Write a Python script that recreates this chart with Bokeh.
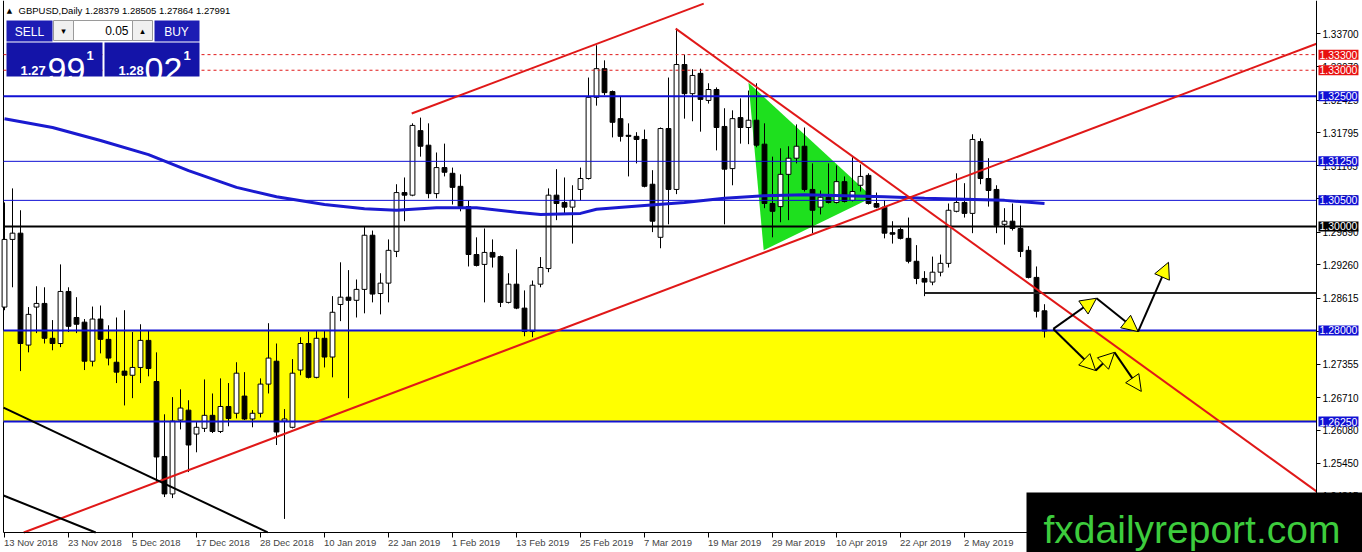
import numpy as np
from bokeh.plotting import figure
from bokeh.models import (ColumnDataSource, Range1d, FixedTicker, PrintfTickFormatter,
                          Label, BoxAnnotation, Arrow, NormalHead, LinearAxis)
from bokeh.embed import file_html
from bokeh.resources import INLINE

# ---------------- data ----------------
header_text = "GBPUSD,Daily  1.28379 1.28505 1.27864 1.27991"

date_labels = ["13 Nov 2018", "23 Nov 2018", "5 Dec 2018", "17 Dec 2018", "28 Dec 2018",
               "10 Jan 2019", "22 Jan 2019", "1 Feb 2019", "13 Feb 2019", "25 Feb 2019",
               "7 Mar 2019", "19 Mar 2019", "29 Mar 2019", "10 Apr 2019", "22 Apr 2019",
               "2 May 2019", "14 May 2019"]
date_label_bars = [0, 8, 16, 24, 32, 40, 48, 56, 64, 72, 80, 88, 96, 104, 112, 120, 128]

price_ticks = [1.33700, 1.33070, 1.32425, 1.31795, 1.31165, 1.30530, 1.29890, 1.29260,
               1.28615, 1.27985, 1.27355, 1.26710, 1.26080, 1.25450, 1.24815]

opens = [1.2845, 1.2975, 1.2987, 1.2772, 1.2845, 1.2852, 1.2785, 1.2775, 1.2875, 1.2825,
         1.2816, 1.2741, 1.2822, 1.2783, 1.2739, 1.2722, 1.2714, 1.2729, 1.2781, 1.2702,
         1.2558, 1.2486, 1.2628, 1.2647, 1.2601, 1.2612, 1.2637, 1.2606, 1.2654, 1.2641,
         1.2674, 1.2630, 1.2641, 1.2697, 1.2741, 1.2626, 1.2614, 1.2724, 1.2775, 1.2710,
         1.2785, 1.2749, 1.2850, 1.2864, 1.2858, 1.2879, 1.2983, 1.2871, 1.2891, 1.2952,
         1.3065, 1.3060, 1.3184, 1.3156, 1.3063, 1.3113, 1.3102, 1.3077, 1.3038, 1.2946,
         1.2927, 1.2950, 1.2942, 1.2854, 1.2889, 1.2843, 1.2798, 1.2889, 1.2919, 1.3060,
         1.3046, 1.3037, 1.3071, 1.3092, 1.3248, 1.3303, 1.3259, 1.3207, 1.3175, 1.3173,
         1.3167, 1.3081, 1.2979, 1.3188, 1.3071, 1.3311, 1.3255, 1.3294, 1.3242, 1.3263,
         1.3192, 1.3111, 1.3209, 1.3190, 1.3204, 1.3158, 1.3044, 1.3038, 1.3100, 1.3131,
         1.3154, 1.3071, 1.3037, 1.3056, 1.3046, 1.3086, 1.3050, 1.3079, 1.3098, 1.3044,
         1.3037, 1.2988, 1.2994, 1.2977, 1.2933, 1.2900, 1.2893, 1.2912, 1.2929, 1.3029,
         1.3046, 1.3025, 1.3163, 1.3092, 1.3071, 1.3004, 1.3010, 1.2996, 1.2954, 1.2902,
         1.28379]
highs = [1.3046, 1.3073, 1.3031, 1.2845, 1.2885, 1.2883, 1.2820, 1.2927, 1.2883, 1.2864,
         1.2822, 1.2846, 1.2848, 1.2810, 1.2825, 1.2839, 1.2797, 1.2812, 1.2800, 1.2758,
         1.2639, 1.2672, 1.2687, 1.2666, 1.2624, 1.2706, 1.2679, 1.2708, 1.2699, 1.2739,
         1.2720, 1.2647, 1.2708, 1.2814, 1.2775, 1.2649, 1.2745, 1.2787, 1.2798, 1.2800,
         1.2800, 1.2866, 1.2931, 1.2916, 1.2898, 1.3000, 1.2992, 1.2910, 1.2975, 1.3081,
         1.3094, 1.3198, 1.3209, 1.3198, 1.3142, 1.3159, 1.3113, 1.3100, 1.3050, 1.2979,
         1.2996, 1.2975, 1.2944, 1.2910, 1.2956, 1.2877, 1.2896, 1.2941, 1.3073, 1.3110,
         1.3094, 1.3079, 1.3113, 1.3286, 1.3348, 1.3319, 1.3261, 1.3250, 1.3198, 1.3181,
         1.3186, 1.3108, 1.3190, 1.3286, 1.3380, 1.3330, 1.3302, 1.3303, 1.3275, 1.3267,
         1.3227, 1.3223, 1.3246, 1.3261, 1.3275, 1.3198, 1.3134, 1.3150, 1.3154, 1.3196,
         1.3190, 1.3121, 1.3069, 1.3121, 1.3117, 1.3096, 1.3133, 1.3119, 1.3102, 1.3065,
         1.3050, 1.3010, 1.2998, 1.3017, 1.2964, 1.2914, 1.2942, 1.2946, 1.3044, 1.3102,
         1.3083, 1.3177, 1.3169, 1.3131, 1.3079, 1.3035, 1.3044, 1.3040, 1.2962, 1.2923,
         1.28505]
lows = [1.2839, 1.2883, 1.2722, 1.2758, 1.2795, 1.2775, 1.2762, 1.2768, 1.2797, 1.2795,
        1.2724, 1.2731, 1.2756, 1.2733, 1.2699, 1.2656, 1.2670, 1.2699, 1.2712, 1.2509,
        1.2480, 1.2478, 1.2610, 1.2528, 1.2566, 1.2605, 1.2603, 1.2603, 1.2616, 1.2631,
        1.2628, 1.2614, 1.2633, 1.2679, 1.2580, 1.2438, 1.2612, 1.2714, 1.2708, 1.2708,
        1.2729, 1.2710, 1.2818, 1.2670, 1.2825, 1.2833, 1.2854, 1.2831, 1.2854, 1.2941,
        1.3010, 1.3058, 1.3134, 1.3054, 1.3054, 1.3096, 1.3042, 1.3029, 1.2923, 1.2923,
        1.2854, 1.2921, 1.2845, 1.2852, 1.2841, 1.2789, 1.2787, 1.2883, 1.2912, 1.3012,
        1.3025, 1.2967, 1.3050, 1.3090, 1.3232, 1.3252, 1.3171, 1.3163, 1.3096, 1.3121,
        1.3075, 1.2989, 1.2958, 1.3004, 1.3062, 1.3207, 1.3202, 1.3182, 1.3236, 1.3146,
        1.3004, 1.3079, 1.3159, 1.3158, 1.3152, 1.3035, 1.2979, 1.3008, 1.3012, 1.3121,
        1.3067, 1.2987, 1.3023, 1.3044, 1.3044, 1.3046, 1.3048, 1.3067, 1.3042, 1.3035,
        1.2977, 1.2967, 1.2975, 1.2929, 1.2889, 1.2866, 1.2887, 1.2904, 1.2921, 1.3027,
        1.3017, 1.2987, 1.3081, 1.3038, 1.2987, 1.2965, 1.2992, 1.2941, 1.2900, 1.2825,
        1.27864]
closes = [1.2975, 1.2987, 1.2775, 1.2831, 1.2852, 1.2785, 1.2775, 1.2875, 1.2808, 1.2812,
          1.2741, 1.2822, 1.2783, 1.2747, 1.2720, 1.2714, 1.2729, 1.2781, 1.2727, 1.2557,
          1.2486, 1.2626, 1.2651, 1.2580, 1.2614, 1.2637, 1.2606, 1.2654, 1.2631, 1.2718,
          1.2630, 1.2641, 1.2697, 1.2747, 1.2605, 1.2630, 1.2718, 1.2775, 1.2710, 1.2785,
          1.2749, 1.2835, 1.2864, 1.2858, 1.2879, 1.2983, 1.2870, 1.2891, 1.2954, 1.3065,
          1.3060, 1.3194, 1.3154, 1.3063, 1.3113, 1.3104, 1.3075, 1.3038, 1.2946, 1.2925,
          1.2950, 1.2941, 1.2854, 1.2889, 1.2843, 1.2798, 1.2887, 1.2921, 1.3060, 1.3044,
          1.3037, 1.3050, 1.3092, 1.3248, 1.3303, 1.3257, 1.3200, 1.3173, 1.3173, 1.3167,
          1.3077, 1.3010, 1.3188, 1.3071, 1.3311, 1.3255, 1.3290, 1.3244, 1.3263, 1.3190,
          1.3110, 1.3207, 1.3190, 1.3204, 1.3156, 1.3044, 1.3029, 1.3100, 1.3131, 1.3154,
          1.3071, 1.3031, 1.3056, 1.3046, 1.3086, 1.3048, 1.3067, 1.3096, 1.3044, 1.3037,
          1.2987, 1.2985, 1.2977, 1.2933, 1.2900, 1.2893, 1.2912, 1.2929, 1.3031, 1.3046,
          1.3025, 1.3167, 1.3092, 1.3069, 1.3002, 1.3010, 1.2996, 1.2952, 1.2902, 1.2837,
          1.27991]

ma_bars = [0, 6, 12, 18, 23, 29, 34, 40, 45, 49, 54, 59, 64, 67, 72, 74, 80, 85, 90, 95,
           100, 105, 110, 115, 120, 125, 130]
ma_values = [1.3207, 1.3190, 1.3165, 1.3138, 1.3107, 1.3075, 1.3057, 1.3042, 1.3034, 1.3031,
             1.3036, 1.3036, 1.3027, 1.3023, 1.3025, 1.3033, 1.3040, 1.3046, 1.3054, 1.3059,
             1.3061, 1.3059, 1.3057, 1.3054, 1.3052, 1.3050, 1.3044]

level_prices = [1.3330, 1.3300, 1.3250, 1.3125, 1.3050, 1.3000, 1.2800, 1.2625]
zone_low, zone_high = 1.2625, 1.2800
support_start_bar, support_price = 115, 1.2872

red_line_bar0 = [2.4, 50.9, 83.9]
red_line_price0 = [1.2412, 1.3217, 1.3380]
red_line_bar1 = [164.0, 87.4, 164.0]
red_line_price1 = [1.3351, 1.3428, 1.2491]

black_line_bar0 = [-0.125, -0.125]
black_line_price0 = [1.2652, 1.2483]
black_line_bar1 = [32.9, 11.4]
black_line_price1 = [1.2412, 1.2412]

triangle_bars = [93.0, 94.9, 108.5]
triangle_prices = [1.3276, 1.2954, 1.3056]

path_up_bars = [131.1, 136.5, 141.7, 145.5]
path_up_prices = [1.2803, 1.2862, 1.2798, 1.2931]
path_down_bars = [131.1, 136.4, 138.75, 142.1]
path_down_prices = [1.2803, 1.2723, 1.2758, 1.2683]

# ---------------- geometry (whole canvas is the frame) ----------------
W, H = 1362, 552
PX_PER_BAR = 8.0
PX_PER_UNIT = 5205.0
X0 = -0.5
X1 = X0 + W / PX_PER_BAR
Y1 = 1.3434
Y0 = Y1 - H / PX_PER_UNIT


def xd(px):
    return X0 + px / PX_PER_BAR


def yd(py):
    return Y1 - py / PX_PER_UNIT


CHART_L, CHART_R, CHART_B = xd(3), xd(1316), yd(532)

FONT = "Liberation Sans"
BLUE = "#1010D4"
RED = "#E01818"

p = figure(width=W, height=H, x_range=Range1d(X0, X1), y_range=Range1d(Y0, Y1),
           output_backend="svg", toolbar_location=None,
           min_border_left=0, min_border_top=0, min_border_right=0, min_border_bottom=0,
           background_fill_color="white", border_fill_color="white",
           x_axis_location=None, y_axis_location=None)
p.grid.visible = False
p.outline_line_color = None

# price axis (right), fixed at the chart's right edge
yax = LinearAxis(fixed_location=CHART_R, bounds=(CHART_B, Y1),
                 ticker=FixedTicker(ticks=price_ticks),
                 formatter=PrintfTickFormatter(format="%.5f"))
yax.major_label_text_font = FONT
yax.major_label_text_font_size = "10px"
yax.major_label_text_color = "black"
yax.major_tick_out = 4
yax.major_tick_in = 0
yax.minor_tick_line_color = None
yax.major_label_standoff = 2
yax.axis_line_color = "black"
p.add_layout(yax, "right")

# date axis (below): labels centred so that each starts at its bar
CHAR_W = {" ": 0.278, "M": 0.833, "N": 0.722, "D": 0.722, "J": 0.5, "F": 0.611, "A": 0.667,
          "r": 0.333, "y": 0.5, "v": 0.5, "c": 0.5}
LABEL_PX = 9.5


def text_w(s):
    return sum(CHAR_W.get(ch, 0.556) for ch in s) * LABEL_PX


label_ticks = [round(b + (text_w(s) / 2 - 0.5) / PX_PER_BAR, 3)
               for b, s in zip(date_label_bars, date_labels)]
xax = LinearAxis(fixed_location=CHART_B, bounds=(CHART_L, CHART_R),
                 ticker=FixedTicker(ticks=label_ticks))
xax.major_label_overrides = {t: s for t, s in zip(label_ticks, date_labels)}
xax.major_label_text_font = FONT
xax.major_label_text_font_size = "9.5px"
xax.major_tick_line_color = None
xax.major_tick_out = 0
xax.major_tick_in = 0
xax.minor_tick_line_color = None
xax.major_label_standoff = 4
xax.axis_line_color = "black"
p.add_layout(xax, "below")

# date tick marks at the label starts
tick_pos = [b - 0.06 for b in date_label_bars]
xticks = LinearAxis(fixed_location=CHART_B, ticker=FixedTicker(ticks=tick_pos))
xticks.major_label_overrides = {t: "" for t in tick_pos}
xticks.major_label_text_alpha = 0
xticks.axis_line_color = None
xticks.major_tick_out = 5
xticks.major_tick_in = 0
xticks.minor_tick_line_color = None
p.add_layout(xticks, "below")

# left border of the chart
p.segment(x0=[CHART_L], y0=[CHART_B], x1=[CHART_L], y1=[Y1], line_color="black", line_width=1)

# yellow zone
p.quad(left=[CHART_L], right=[CHART_R], bottom=[zone_low], top=[zone_high],
       fill_color="#FFFF00", line_color=None)

# green triangle
p.patch(triangle_bars, triangle_prices, fill_color="#1EE01E", line_color=None)

# candles
bars = np.arange(len(opens))
o = np.array(opens)
c = np.array(closes)
up = c >= o
csrc = ColumnDataSource(dict(x=bars, h=highs, l=lows,
                             top=np.maximum(o, c), bot=np.minimum(o, c),
                             fill=np.where(up, "white", "black")))
p.segment(x0="x", y0="h", x1="x", y1="l", source=csrc, line_color="black", line_width=1)
p.vbar(x="x", width=0.6, top="top", bottom="bot", source=csrc,
       fill_color="fill", line_color="black", line_width=1)

# horizontal levels
level_style = [(RED, 1, "3 3"), (RED, 1, "3 3"), (BLUE, 2, "solid"), (BLUE, 1, "solid"),
               (BLUE, 1, "solid"), ("black", 2, "solid"), (BLUE, 2, "solid"), (BLUE, 2, "solid")]
for lvl, (col, lw, dash) in zip(level_prices, level_style):
    p.segment(x0=[CHART_L], y0=[lvl], x1=[CHART_R], y1=[lvl], line_color=col,
              line_width=lw, line_dash=dash)

p.segment(x0=[support_start_bar], y0=[support_price], x1=[CHART_R], y1=[support_price],
          line_color="#222222", line_width=2)

# moving average
p.line(ma_bars, ma_values, line_color="#1A1AD0", line_width=3)

# trend lines
p.segment(x0=red_line_bar0, y0=red_line_price0, x1=red_line_bar1, y1=red_line_price1,
          line_color=RED, line_width=2)
p.segment(x0=black_line_bar0, y0=black_line_price0, x1=black_line_bar1, y1=black_line_price1,
          line_color="black", line_width=2)

# scenario arrows
for xs, ys in [(path_up_bars, path_up_prices), (path_down_bars, path_down_prices)]:
    asrc = ColumnDataSource(dict(x0=xs[:-1], y0=ys[:-1], x1=xs[1:], y1=ys[1:]))
    p.add_layout(Arrow(x_start="x0", y_start="y0", x_end="x1", y_end="y1", source=asrc,
                       line_color="black", line_width=2,
                       end=NormalHead(size=16, fill_color="#FFFF00", line_color="black",
                                      line_width=1)))

# price tags on the right axis
tag_colors = ["#E81010", "#E81010", BLUE, BLUE, BLUE, "black", BLUE, BLUE]
for lvl, col in zip(level_prices, tag_colors):
    p.add_layout(Label(x=xd(1318), y=lvl, text="%.5f" % lvl, text_align="left",
                       text_baseline="middle", text_color="white", text_font=FONT,
                       text_font_size="10.5px", background_fill_color=col,
                       background_fill_alpha=1.0, padding=1))


# trading panel (top-left)
def box(l, r, t, b, fill, line=None):
    p.add_layout(BoxAnnotation(left=xd(l), right=xd(r), top=yd(t), bottom=yd(b),
                               fill_color=fill, fill_alpha=1.0,
                               line_color=line, line_alpha=1.0 if line else 0.0,
                               line_width=1))


def txt(x, y, s, size, color="white", align="left", baseline="middle", font=FONT, style="normal"):
    p.add_layout(Label(x=xd(x), y=yd(y), text=s, text_font_size=size, text_color=color,
                       text_align=align, text_baseline=baseline, text_font=font,
                       text_font_style=style))


txt(9, 10, "\u25B2", "7px", color="black", align="center", font="DejaVu Sans")
txt(18, 10, header_text, "9.5px", color="black")

box(6, 52, 20, 41, "#1C1CB4")
box(53, 152, 20, 40, "#F0F0F0", "#9A9A9A")
box(73, 132, 20, 40, "white", "#9A9A9A")
box(154, 199, 20, 41, "#1C1CB4")
box(6, 102, 42, 76, "#1414A8")
box(104, 199, 42, 76, "#1414A8")

txt(29, 31, "SELL", "12px", align="center")
txt(176, 31, "BUY", "12px", align="center")
txt(63, 30, "\u25BE", "9px", color="black", align="center", font="DejaVu Sans")
txt(142, 30, "\u25B4", "9px", color="black", align="center", font="DejaVu Sans")
txt(128, 30, "0.05", "12px", color="black", align="right")
txt(20, 70, "1.27", "13px", baseline="alphabetic", style="bold")
txt(47, 69, "99", "34px", baseline="alphabetic")
txt(86, 55, "1", "13px", baseline="alphabetic", style="bold")
txt(118, 70, "1.28", "13px", baseline="alphabetic", style="bold")
txt(144, 69, "02", "34px", baseline="alphabetic")
txt(183, 55, "1", "13px", baseline="alphabetic", style="bold")

# watermark
box(1026, 1420, 492, 620, "black")
txt(1043, 529, "fxdailyreport.com", "39px", color="#3DCC3D", baseline="alphabetic")

open("out.html", "w").write(file_html(p, INLINE))
